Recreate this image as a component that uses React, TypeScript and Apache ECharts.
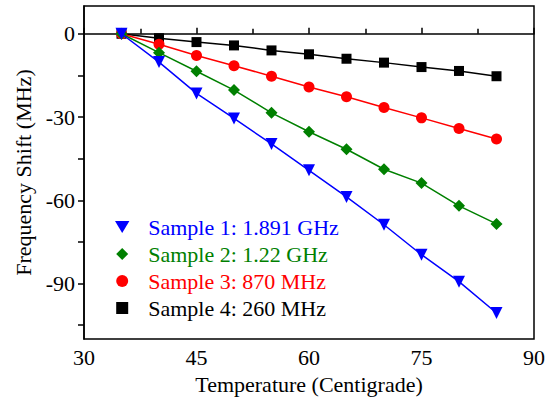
import React, { useEffect, useRef } from "react";
import * as echarts from "echarts";

const temps = [35, 40, 45, 50, 55, 60, 65, 70, 75, 80, 85];
const sample1 = [0, -10.2, -21.5, -30.5, -39.7, -49.2, -58.8, -68.8, -79.6, -89.3, -100.6];
const sample2 = [0, -6.8, -13.5, -20.3, -28.5, -35.3, -41.6, -48.8, -53.8, -62.0, -68.5];
const sample3 = [0, -3.8, -7.8, -11.5, -15.3, -19.2, -22.7, -26.6, -30.3, -34.1, -37.9];
const sample4 = [0, -1.6, -3.0, -4.2, -6.0, -7.4, -9.0, -10.4, -12.0, -13.4, -15.3];
const names = ["Sample 1: 1.891 GHz", "Sample 2: 1.22 GHz", "Sample 3: 870 MHz", "Sample 4: 260 MHz"];
const colors = ["#0000ff", "#008000", "#ff0000", "#000000"];
const yLabelValues = [0, -30, -60, -90];
const yTickValues = [0, -15, -30, -45, -60, -75, -90, -105];

const FONT = "'Liberation Serif', 'Times New Roman', serif";

export default function App() {
  const ref = useRef<HTMLDivElement>(null);
  useEffect(() => {
    if (!ref.current) return;
    const chart = echarts.init(ref.current, null, { renderer: "svg" });
    const pair = (vals: number[]) => temps.map((t, i) => [t, vals[i]]);
    const symbols = ["triangle", "diamond", "circle", "rect"];
    const sizes = [12, 12, 11, 10];
    const all = [sample1, sample2, sample3, sample4];
    const series = [3, 2, 1, 0].map((k) => ({
      name: names[k],
      type: "line",
      data: pair(all[k]),
      symbol: symbols[k],
      symbolSize: sizes[k],
      symbolRotate: k === 0 ? 180 : 0,
      lineStyle: { color: colors[k], width: 1.5 },
      itemStyle: { color: colors[k] },
      z: 2 + (3 - k),
    }));
    const icons = [
      "path://M0,0 L12,0 L6,10 Z",
      "path://M6,0 L12,6 L6,12 L0,6 Z",
      "path://M0,6 A6,6 0 1,1 12,6 A6,6 0 1,1 0,6 Z",
      "path://M0,0 L11,0 L11,11 L0,11 Z",
    ];
    chart.setOption({
      animation: false,
      backgroundColor: "#ffffff",
      grid: {
        left: 84,
        right: 17,
        top: 6,
        bottom: 60,
        show: true,
        borderColor: "#000",
        borderWidth: 1.5,
      },
      legend: {
        left: 110,
        top: 211,
        orient: "vertical",
        itemWidth: 42,
        itemHeight: 12,
        itemGap: 5,
        symbolKeepAspect: true,
        data: names.map((n, i) => ({
          name: n,
          icon: icons[i],
          textStyle: { color: colors[i] },
        })),
        textStyle: { fontFamily: FONT, fontSize: 22, lineHeight: 22 },
      },
      xAxis: {
        type: "value",
        min: 30,
        max: 90,
        interval: 15,
        name: "Temperature (Centigrade)",
        nameLocation: "middle",
        nameGap: 31,
        nameTextStyle: { fontFamily: FONT, fontSize: 22, color: "#000" },
        axisLine: { lineStyle: { color: "#000", width: 1.5 } },
        axisTick: { inside: true, length: 6, lineStyle: { color: "#000", width: 1.5 } },
        minorTick: { show: true, splitNumber: 2, length: 5, lineStyle: { color: "#000", width: 1.5 } },
        axisLabel: { fontFamily: FONT, fontSize: 22, color: "#000", margin: 7 },
        splitLine: { show: false },
      },
      yAxis: {
        type: "value",
        min: -110,
        max: 10,
        name: "Frequency Shift (MHz)",
        nameLocation: "middle",
        nameGap: 47,
        nameTextStyle: { fontFamily: FONT, fontSize: 22, color: "#000" },
        axisLine: { lineStyle: { color: "#000", width: 1.5 } },
        axisTick: {
          inside: false,
          length: 6,
          customValues: yTickValues,
          lineStyle: { color: "#000", width: 1.5 },
        },
        axisLabel: {
          fontFamily: FONT,
          fontSize: 22,
          color: "#000",
          margin: 9,
          customValues: yLabelValues,
        },
        splitLine: { show: false },
      },
      series,
    });
    return () => chart.dispose();
  }, []);
  return (
    <div
      ref={ref}
      style={{ position: "fixed", left: 0, top: 0, width: 551, height: 400, background: "#fff" }}
    />
  );
}
